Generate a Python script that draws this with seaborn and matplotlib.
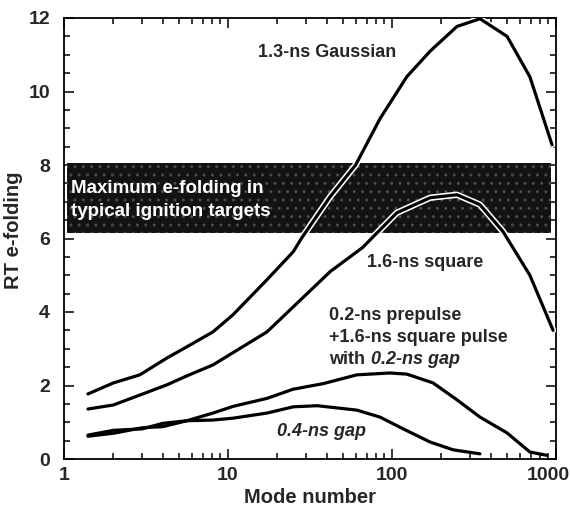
import matplotlib
matplotlib.use("Agg")
import matplotlib.pyplot as plt
import matplotlib.patheffects as pe
from matplotlib.ticker import MultipleLocator, LogLocator, NullFormatter
from matplotlib.transforms import ScaledTranslation
import numpy as np
import pandas as pd
import seaborn as sns

# RT e-folding versus mode number for four laser pulse shapes
gauss_mode = [1.4, 2, 2.9, 4.25, 5.6, 8.1, 10.7, 17.3, 25, 28, 42, 60, 84.5, 123, 171, 249, 344, 503, 693, 946]
gauss_efold = [1.77, 2.07, 2.29, 2.75, 3.05, 3.46, 3.92, 4.88, 5.64, 6.0, 7.14, 8.0, 9.26, 10.4, 11.1, 11.77, 11.98, 11.5, 10.4, 8.55]

square_mode = [1.4, 2, 2.9, 4.25, 5.6, 8.1, 10.7, 17.3, 25, 42, 66, 107, 171, 249, 344, 475, 693, 960]
square_efold = [1.36, 1.47, 1.74, 2.02, 2.26, 2.56, 2.89, 3.46, 4.14, 5.1, 5.75, 6.7, 7.11, 7.19, 6.92, 6.19, 5.0, 3.5]

gap02_mode = [1.4, 2, 3, 4, 5.6, 8.1, 10.7, 17.3, 25, 38, 61, 97, 123, 178, 249, 344, 503, 693, 880]
gap02_efold = [0.65, 0.78, 0.82, 0.97, 1.04, 1.25, 1.43, 1.65, 1.9, 2.05, 2.29, 2.34, 2.31, 2.07, 1.61, 1.14, 0.71, 0.19, 0.1]

gap04_mode = [1.4, 2, 3, 4, 5.6, 8.1, 10.7, 17.3, 25, 35, 61, 84.5, 117, 171, 236, 344]
gap04_efold = [0.62, 0.7, 0.85, 0.88, 1.04, 1.06, 1.11, 1.25, 1.42, 1.45, 1.33, 1.14, 0.82, 0.46, 0.25, 0.14]

# Range of maximum e-folding in typical ignition targets
band_low, band_high = 6.15, 8.05

x_ticks = [1, 10, 100, 1000]
x_tick_labels = ["1", "10", "100", "1000"]
y_ticks = [0, 2, 4, 6, 8, 10, 12]

sns.set_theme(style="ticks")
plt.rcParams["font.family"] = ["Liberation Sans", "DejaVu Sans"]
plt.rcParams["font.weight"] = "bold"
plt.rcParams["hatch.linewidth"] = 1.0

fig = plt.figure(figsize=(5.7, 5.09), dpi=100)
ax = fig.add_axes([64 / 570, 50 / 509, 492 / 570, 441 / 509])

ax.axhspan(band_low, band_high, xmin=0.006, xmax=0.99, facecolor="#121212",
           edgecolor="#4a4a4a", hatch="..", linewidth=0, zorder=1)

outlined = [pe.Stroke(linewidth=4.6, foreground="white"), pe.Normal()]
series = [
    (gauss_mode, gauss_efold, outlined),
    (square_mode, square_efold, outlined),
    (gap02_mode, gap02_efold, None),
    (gap04_mode, gap04_efold, None),
]
for modes, efold, effects in series:
    df = pd.DataFrame({"mode": modes, "efold": efold})
    sns.lineplot(data=df, x="mode", y="efold", ax=ax, color="black",
                 linewidth=2.3, estimator=None, sort=False,
                 path_effects=effects, zorder=3)

ax.set_xscale("log")
ax.set_xlim(1, 1000)
ax.set_ylim(0, 12)
ax.set_xticks(x_ticks, labels=x_tick_labels)
ax.xaxis.set_minor_locator(LogLocator(base=10, subs=np.arange(2, 10)))
ax.xaxis.set_minor_formatter(NullFormatter())
ax.set_yticks(y_ticks)
ax.yaxis.set_minor_locator(MultipleLocator(0.5))

for s in ax.spines.values():
    s.set_linewidth(1.3)
    s.set_color("black")
ax.tick_params(which="both", direction="in", top=True, right=True,
               width=1.1, color="black")
ax.tick_params(which="major", length=7, labelsize=14)
ax.tick_params(axis="x", which="major", pad=6)
ax.tick_params(axis="y", which="major", pad=10)
ax.tick_params(which="minor", length=4)
for lab in ax.get_xticklabels() + ax.get_yticklabels():
    lab.set_fontweight("bold")
# keep the last mode label inside the figure
last = ax.get_xticklabels()[-1]
last.set_transform(last.get_transform()
                   + ScaledTranslation(-8 / 100, 0, fig.dpi_scale_trans))

ax.set_xlabel("Mode number", fontsize=14.5, fontweight="bold")
ax.set_ylabel("RT e-folding", fontsize=14.5, fontweight="bold")
ax.xaxis.set_label_coords(0.5, -0.066)
ax.yaxis.set_label_coords(-0.083, 0.519)

# Band annotation
ax.text(1.1, 7.05, "Maximum e-folding in\ntypical ignition targets",
        color="white", fontsize=13.5, fontweight="bold", ha="left",
        va="center", linespacing=1.4, zorder=2)

# Curve labels
lab_kw = dict(fontsize=13, fontweight="bold", ha="left", va="center")
ax.text(15.2, 11.05, "1.3-ns Gaussian", **lab_kw)
ax.text(70, 5.35, "1.6-ns square", **lab_kw)
ax.text(41.4, 3.9, "0.2-ns prepulse", **lab_kw)
ax.text(41.4, 3.3, "+1.6-ns square pulse", **lab_kw)
ax.text(41.4, 2.7, "with ", **lab_kw)
ax.text(74, 2.7, "0.2-ns gap", style="italic", **lab_kw)
ax.text(19.9, 0.74, "0.4-ns gap", style="italic", **lab_kw)

fig.savefig("out.png", dpi=100)
